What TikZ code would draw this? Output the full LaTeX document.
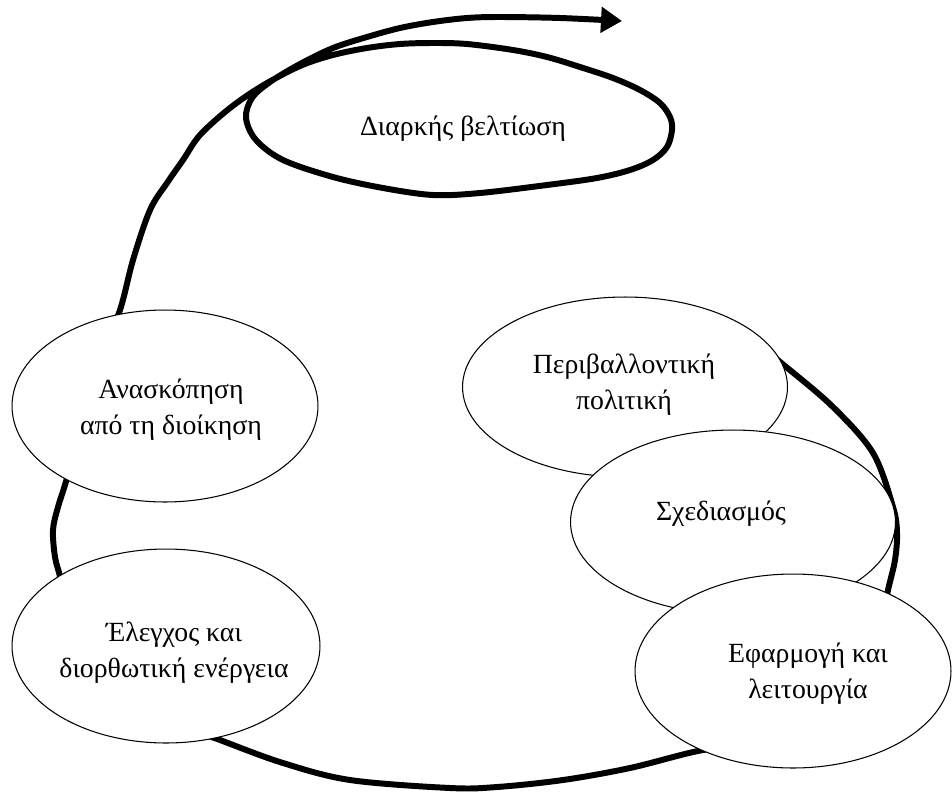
\documentclass[tikz,border=0pt]{standalone}
\usepackage{fontspec}
\setmainfont{Liberation Serif}
\usetikzlibrary{shapes.geometric,arrows.meta}
\begin{document}
\begin{tikzpicture}[x=0.02cm,y=-0.02cm,
  stage/.style={ellipse, draw=black, line width=0.6pt, fill=white, inner sep=0pt},
  stagetext/.style={align=center, font=\fontsize{15.8}{20.5}\selectfont, inner sep=0pt},
  cyclepath/.style={line width=3.4pt, line cap=round, line join=round}]
\useasboundingbox (0,0) rectangle (952,791);
\fill[white] (0,0) rectangle (952,791);

% the improvement cycle, ending in the loop and the outgoing arrow
\draw[cyclepath, -{Triangle[length=0.42cm,width=0.5cm]}]
  plot[smooth, tension=0.55] coordinates {
    (740,330) (785,366) (833,407) (873,453)
    (893,507) (897,533) (895,560) (888,590) (872,660) (820,725) (760,745)
    (703,750) (630,768) (563,780) (497,787) (450,788) (350,780) (283,763)
    (220,740) (150,713) (90,670) (66,612) (60,577) (55,557) (53,530)
    (58,507) (67,478) (82,420) (100,360) (120,310) (133,260) (150,210)
    (167,183) (183,160) (200,135) (230,108) (262,86) (300,66) (333,55)
    (367,48) (400,44) (433,43) (467,44) (513,50) (547,57) (580,67)
    (613,78) (640,90) (660,103) (670,117) (672,130) (667,147) (653,160)
    (630,170) (597,178) (547,185) (480,193) (433,195) (383,188) (333,177)
    (283,160) (256,140) (246,118) (252,98) (270,82) (300,64) (333,48)
    (367,37) (400,28) (433,22) (467,18) (500,17) (560,18) (622,21)};

\node[stagetext, anchor=base] (improve) at (463,135) {Διαρκής βελτίωση};

% stages of the cycle
\node[stage, minimum width=6.12cm, minimum height=3.84cm] (review) at (165,406) {};
\node[stage, minimum width=6.16cm, minimum height=3.88cm] (check) at (166,646) {};
\node[stage, minimum width=6.5cm, minimum height=3.6cm] (policy) at (625,387) {};
\node[stage, minimum width=6.5cm, minimum height=3.68cm] (plan) at (733,522) {};
\node[stage, minimum width=6.32cm, minimum height=3.88cm] (implement) at (793,671) {};

\node[stagetext] (reviewtext) at (171,410) {Ανασκόπηση\\από τη διοίκηση};
\node[stagetext] (checktext) at (174,653) {Έλεγχος και\\διορθωτική ενέργεια};
\node[stagetext] (policytext) at (624,385) {Περιβαλλοντική\\πολιτική};
\node[stagetext, anchor=base] (plantext) at (721,520) {Σχεδιασμός};
\node[stagetext] (implementtext) at (808,674) {Εφαρμογή και\\λειτουργία};
\end{tikzpicture}
\end{document}
